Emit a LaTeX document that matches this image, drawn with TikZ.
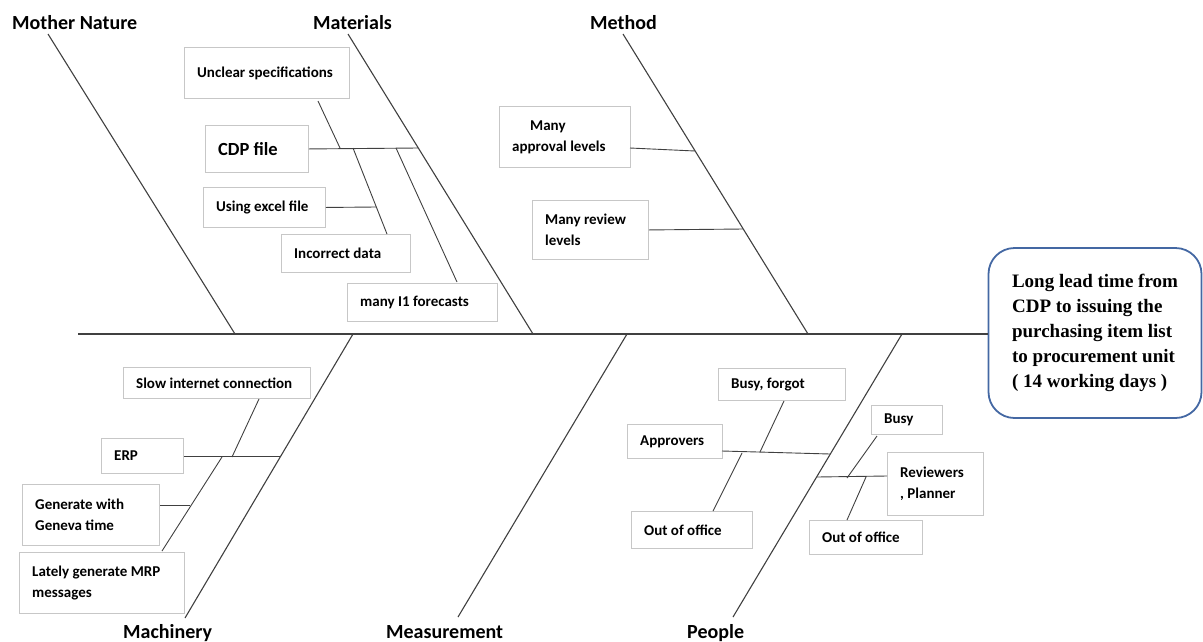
\documentclass[tikz,border=0pt]{standalone}
\usepackage{fontspec}
\setmainfont{Carlito}
\newfontfamily\effectfont{Liberation Serif}
\usetikzlibrary{calc}
\definecolor{effblue}{RGB}{68,104,163}
\tikzset{
  spine/.style={draw=black!75,line width=1.3pt},            % main axis
  bone/.style={draw=black!75,line width=1.1pt},             % category bone
  twig/.style={draw=black!75,line width=0.9pt},             % cause line
  cause/.style={draw=black!22,line width=0.9pt,anchor=north west,inner sep=0pt},
  ctext/.style={anchor=west,align=left,inner sep=0pt,font=\bfseries\fontsize{15}{21}\selectfont},
  cat/.style={anchor=base west,inner sep=0pt,font=\bfseries\fontsize{20}{24}\selectfont},
  effect/.style={draw=effblue,line width=1.8pt,rounded corners=26pt,align=left,
    minimum width=213pt,minimum height=170pt,
    font=\effectfont\bfseries\fontsize{19}{25}\selectfont},
}
\newcommand{\causebox}[6]{% name, x, y, width, height, text
  \node[cause,minimum width=#4,minimum height=#5] (#1) at (#2,#3) {};
  \node[ctext] (#1 t) at ([xshift=13pt]#1.west) {#6};
}

\begin{document}
\begin{tikzpicture}[x=1pt,y=-1pt]
  \useasboundingbox (0,0) rectangle (1203,641);
  % effect and spine
  \node[effect] (effect) at (1095,333) {Long lead time from\\CDP to issuing the\\purchasing item list\\to procurement unit\\( 14 working days )};
  \coordinate (tail) at (78,334);
  \draw[spine] (tail) -- (tail -| effect.west);
  % category bones
  \coordinate (mn0) at (48,34);   \coordinate (mn1) at (235,334);
  \coordinate (ma0) at (348,34);  \coordinate (ma1) at (533,334);
  \coordinate (me0) at (623,34);  \coordinate (me1) at (808,334);
  \coordinate (mc0) at (353,334); \coordinate (mc1) at (185,618);
  \coordinate (ms0) at (627,334); \coordinate (ms1) at (458,617);
  \coordinate (pe0) at (902,334); \coordinate (pe1) at (733,617);
  \foreach \a/\b in {mn0/mn1,ma0/ma1,me0/me1,mc0/mc1,ms0/ms1,pe0/pe1}
    \draw[bone] (\a) -- (\b);
  \node[cat] (mnature) at (12,29) {Mother Nature};
  \node[cat] (materials) at (313,29) {Materials};
  \node[cat] (method) at (590,29) {Method};
  \node[cat] (machinery) at (123,638) {Machinery};
  \node[cat] (measurement) at (386,638) {Measurement};
  \node[cat] (people) at (687,638) {People};

  % Materials
  \causebox{unclear}{184}{47}{165}{51}{Unclear specifications}
  \causebox{cdp}{205}{125}{103}{47}{\fontsize{18.5}{22}\selectfont CDP file}
  \causebox{excel}{203}{187}{122}{40}{Using excel file}
  \causebox{incorrect}{281}{234}{129}{38}{Incorrect data}
  \causebox{forecasts}{347}{283}{150}{38}{many I1 forecasts}
  \coordinate (cdpj) at (418,148);
  \coordinate (u1) at (318,101);  \coordinate (u2) at (340,148);
  \coordinate (i1) at (353,148);  \coordinate (i2) at (387,234);
  \coordinate (ej) at (376,207);
  \coordinate (f1) at (396,148);  \coordinate (f2) at (457,282);
  \draw[twig] (cdp.east) -- (cdpj);
  \draw[twig] (u1) -- (u2);
  \draw[twig] (i1) -- (i2);
  \draw[twig] (excel.east) -- (ej);
  \draw[twig] (f1) -- (f2);

  % Method
  \causebox{approval}{499}{106}{131}{61}{\hspace*{18pt}Many\\approval levels}
  \causebox{review}{532}{200}{116}{59}{Many review\\levels}
  \coordinate (a1) at (630,148);  \coordinate (a2) at (695,151);
  \coordinate (rj) at (743,229);
  \draw[twig] (a1) -- (a2);
  \draw[twig] (review.east) -- (rj);

  % Machinery
  \causebox{slow}{123}{367}{187}{31}{Slow internet connection}
  \causebox{erp}{101}{438}{82}{35}{ERP}
  \causebox{geneva}{22}{484}{137}{61}{Generate with\\Geneva time}
  \causebox{mrp}{19}{552}{165}{61}{Lately generate MRP\\messages}
  \coordinate (erpj) at (280,456);
  \coordinate (s1) at (259,399);  \coordinate (s2) at (232,457);
  \coordinate (m1) at (222,457);  \coordinate (m2) at (162,551);
  \coordinate (g1) at (160,505);  \coordinate (g2) at (190,505);
  \draw[twig] (erp.east |- erpj) -- (erpj);
  \draw[twig] (s1) -- (s2);
  \draw[twig] (m1) -- (m2);
  \draw[twig] (g1) -- (g2);

  % People
  \causebox{busyforgot}{718}{368}{127}{32}{Busy, forgot}
  \causebox{approvers}{627}{424}{95}{34}{Approvers}
  \causebox{outleft}{631}{511}{121}{37}{Out of office}
  \causebox{busy}{871}{405}{71}{29}{Busy}
  \causebox{reviewers}{887}{452}{96}{63}{Reviewers\\, Planner}
  \causebox{outright}{809}{520}{113}{34}{Out of office}
  \coordinate (p1) at (722,451);  \coordinate (p2) at (830,454);
  \coordinate (b1) at (784,401);  \coordinate (b2) at (760,452);
  \coordinate (o1) at (742,453);  \coordinate (o2) at (713,511);
  \coordinate (q1) at (887,476);  \coordinate (q2) at (817,477);
  \coordinate (c1) at (877,436);  \coordinate (c2) at (847,478);
  \coordinate (d1) at (866,477);  \coordinate (d2) at (847,520);
  \draw[twig] (p1) -- (p2);
  \draw[twig] (b1) -- (b2);
  \draw[twig] (o1) -- (o2);
  \draw[twig] (q1) -- (q2);
  \draw[twig] (c1) -- (c2);
  \draw[twig] (d1) -- (d2);
\end{tikzpicture}
\end{document}
